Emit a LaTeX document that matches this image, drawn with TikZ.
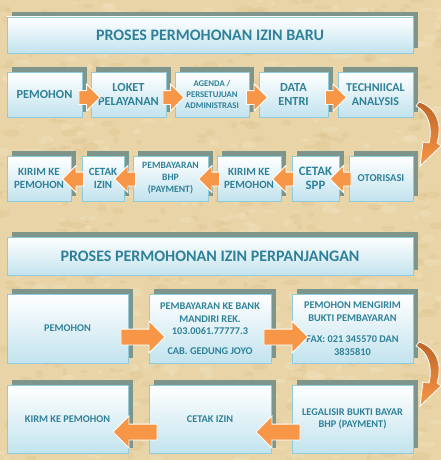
\documentclass[tikz,border=0pt]{standalone}
\usepackage{fontspec}
\setmainfont{Carlito}[BoldFont={Carlito Bold}]
\usetikzlibrary{shapes.arrows,shadows,calc}
\definecolor{bg}{HTML}{E8D4A6}
\definecolor{bgdark}{HTML}{D3B47E}
\definecolor{bglight}{HTML}{F4E6C8}
\definecolor{txt}{HTML}{2F8199}
\definecolor{boxbot}{HTML}{C2E3EE}
\definecolor{boxline}{HTML}{8FCBDB}
\definecolor{shd}{HTML}{7D958A}
\definecolor{orng}{HTML}{F79646}
\definecolor{dorng}{HTML}{BF6628}
\begin{document}
\begin{tikzpicture}[x=1pt,y=-1pt,
  box/.style={draw=boxline, line width=0.7pt, top color=white, bottom color=boxbot,
    text=txt, align=center, inner sep=1pt,
    general shadow={fill=shd, shadow xshift=5pt, shadow yshift=5pt}},
  titlebox/.style={box, minimum width=406pt, font=\fontsize{16}{18}\selectfont\bfseries},
  rowa/.style={box, minimum height=45pt, font=\fontsize{12.3}{13.5}\selectfont\bfseries},
  rowb/.style={box, minimum height=45pt, font=\fontsize{11}{12.5}\selectfont\bfseries},
  rowc/.style={box, minimum width=121pt, minimum height=69pt, font=\fontsize{10.3}{12.5}\selectfont\bfseries},
  smallt/.style={font=\fontsize{8.7}{11}\selectfont\bfseries},
  sarrow/.style={single arrow, fill=orng, draw=white, line width=0.8pt, inner sep=6.5pt,
    single arrow head extend=6.5pt, minimum height=21pt, single arrow tip angle=90},
  barrow/.style={single arrow, fill=orng, draw=white, line width=0.9pt, inner sep=7.5pt,
    single arrow head extend=8pt, minimum height=44pt, single arrow tip angle=90},
  carrow/.style={top color=dorng, bottom color=orng, draw=white, line width=0.8pt}
]
\useasboundingbox (0,0) rectangle (441,460);
\fill[bg] (0,0) rectangle (441,460);
\begin{scope}
\clip (0,0) rectangle (441,460);
\pgfmathsetseed{17}
\foreach \i in {1,...,500}{
  \pgfmathsetmacro\xx{rnd*441}
  \pgfmathsetmacro\yy{rnd*460}
  \pgfmathsetmacro\rr{2+rnd*7}
  \pgfmathsetmacro\ss{1.5+rnd*3}
  \fill[bgdark, opacity=0.18] (\xx,\yy) ellipse ({\rr pt} and {\ss pt});
}
\foreach \i in {1,...,400}{
  \pgfmathsetmacro\xx{rnd*441}
  \pgfmathsetmacro\yy{rnd*460}
  \pgfmathsetmacro\rr{2+rnd*7}
  \pgfmathsetmacro\ss{1.5+rnd*3}
  \fill[bglight, opacity=0.3] (\xx,\yy) ellipse ({\rr pt} and {\ss pt});
}
\end{scope}

% Title 1
\node[titlebox, minimum height=36pt] (t1) at (210,35) {PROSES PERMOHONAN IZIN BARU};

% Row 1
\node[rowa, minimum width=75pt] (p1) at (44.5,94.5) {PEMOHON};
\node[rowa, minimum width=75pt] (p2) at (128.5,94.5) {LOKET\\PELAYANAN};
\node[rowa, minimum width=74pt, smallt] (p3) at (212,94.5) {AGENDA /\\PERSETUJUAN\\ADMINISTRASI};
\node[rowa, minimum width=69pt] (p4) at (293.5,94.5) {DATA\\ENTRI};
\node[rowa, minimum width=75pt, font=\fontsize{12}{13.5}\selectfont\bfseries] (p5) at (375.5,94.5) {TECHNIICAL\\ANALYSIS};

\foreach \a/\b in {p1/p2,p2/p3,p3/p4,p4/p5}
  \node[sarrow] at ($(\a.east)!0.5!(\b.west)+(-0.5,3)$) {};

% curved arrow 1
\path[carrow] (419,102) .. controls (436,107) and (443,124) .. (437,143)
  -- (441,146) -- (420,166) -- (423,142) -- (429,143)
  .. controls (433,127) and (428,112) .. (416,106) -- cycle;

% Row 2
\node[rowb, minimum width=64pt] (q1) at (39,178.5) {KIRIM KE\\PEMOHON};
\node[rowb, minimum width=42pt] (q2) at (103,178.5) {CETAK\\IZIN};
\node[rowb, minimum width=75pt, font=\fontsize{9.7}{12}\selectfont\bfseries] (q3) at (170.5,178.5) {PEMBAYARAN\\BHP\\(PAYMENT)};
\node[rowb, minimum width=64pt] (q4) at (249,178.5) {KIRIM KE\\PEMOHON};
\node[rowb, minimum width=47pt, font=\fontsize{12.8}{14}\selectfont\bfseries] (q5) at (315.5,178.5) {CETAK\\SPP};
\node[rowb, minimum width=64pt, font=\fontsize{10.5}{12}\selectfont\bfseries] (q6) at (381,178.5) {OTORISASI};

\foreach \a/\b in {q6/q5,q5/q4,q4/q3,q3/q2,q2/q1}
  \node[sarrow, shape border rotate=180] at ($(\a.west)!0.5!(\b.east)+(0,0.5)$) {};

% Title 2
\node[titlebox, minimum height=38pt] (t2) at (210,256) {PROSES PERMOHONAN IZIN PERPANJANGAN};

% Row 3
\node[rowc] (r1) at (67.5,328.5) {PEMOHON};
\node[rowc, minimum width=122pt] (r2) at (210,328.5) {PEMBAYARAN KE BANK\\MANDIRI REK.\\103.0061.77777.3\\[7pt]CAB. GEDUNG JOYO};
\node[rowc] (r3) at (352.5,328.5) {PEMOHON MENGIRIM\\BUKTI PEMBAYARAN\\[9pt]FAX: 021 345570 DAN\\3835810};

\foreach \a/\b in {r1/r2,r2/r3}
  \node[barrow] at ($(\a.east)!0.5!(\b.west)+(0.5,8.5)$) {};

% curved arrow 2
\path[carrow] (419,342) .. controls (436,347) and (443,364) .. (437,383)
  -- (441,386) -- (420,406) -- (423,382) -- (429,383)
  .. controls (433,367) and (428,352) .. (416,346) -- cycle;

% Row 4
\node[rowc, minimum height=68pt] (s1) at (67.5,419) {KIRM KE PEMOHON};
\node[rowc, minimum width=122pt, minimum height=68pt] (s2) at (210,419) {CETAK IZIN};
\node[rowc, minimum height=68pt] (s3) at (352.5,419) {LEGALISIR BUKTI BAYAR\\BHP (PAYMENT)};

\foreach \a/\b in {s3/s2,s2/s1}
  \node[barrow, shape border rotate=180] at ($(\a.west)!0.5!(\b.east)+(0.5,13)$) {};
\end{tikzpicture}
\end{document}
